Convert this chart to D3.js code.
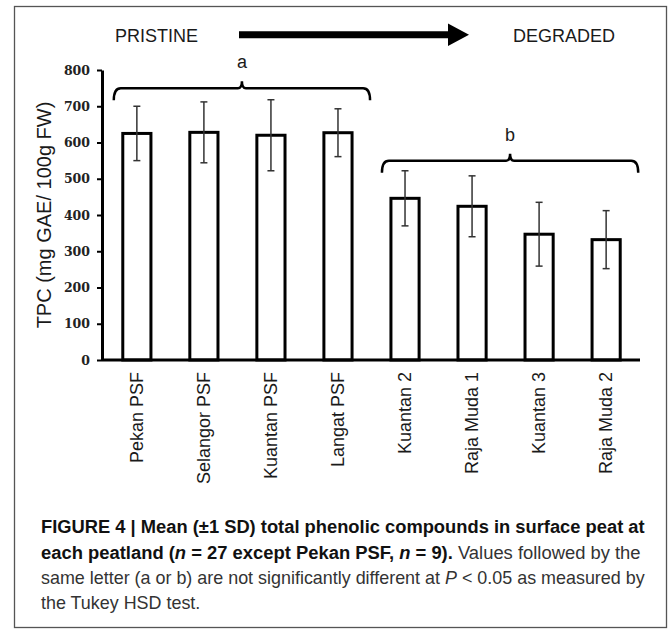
<!DOCTYPE html>
<html>
<head>
<meta charset="utf-8">
<script src="https://cdn.jsdelivr.net/npm/d3@7"></script>
<style>
  html, body { margin: 0; padding: 0; background: #fff; }
  svg { display: block; }
  .cap text { font-family: "Liberation Sans", Arial, sans-serif; font-size: 18px; }
</style>
</head>
<body>
<div id="chart"></div>
<script>
// Data for bar chart
const sites = ["Pekan PSF", "Selangor PSF", "Kuantan PSF", "Langat PSF", "Kuantan 2", "Raja Muda 1", "Kuantan 3", "Raja Muda 2"];
const means = [625, 628, 620, 627, 446, 424, 347, 332];
const sds = [75, 84, 98, 66, 76, 84, 88, 80];
const yTicks = [0, 100, 200, 300, 400, 500, 600, 700, 800];

// Tukey groups
const groupLetters = ["a", "b"];
const groupFirst = ["Pekan PSF", "Kuantan 2"];
const groupLast = ["Langat PSF", "Raja Muda 2"];
const groupLevel = [750, 550];

const width = 670;
const height = 635;
const margin = ({top: 70, right: 30, bottom: 275, left: 102});

const svg = d3.select("#chart")
    .append("svg")
    .attr("width", width)
    .attr("height", height);

svg.append("rect")
    .attr("x", 14.5)
    .attr("y", 6.5)
    .attr("width", 652)
    .attr("height", 621)
    .attr("fill", "#fff")
    .attr("stroke", "#555")
    .attr("stroke-width", 1.3);

const xScale = d3.scaleBand()
    .domain(sites)
    .range([margin.left, 641])
    .paddingInner(0.58)
    .paddingOuter(0.31);

const yScale = d3.scaleLinear()
    .domain([0, 800])
    .range([360, margin.top]);

// header: PRISTINE -> DEGRADED
svg.append("text")
    .attr("x", 115)
    .attr("y", 42)
    .attr("font-family", "Liberation Sans, Arial, sans-serif")
    .attr("font-size", 18)
    .attr("fill", "#1a1a1a")
    .text("PRISTINE");

svg.append("text")
    .attr("x", 513)
    .attr("y", 42)
    .attr("font-family", "Liberation Sans, Arial, sans-serif")
    .attr("font-size", 18)
    .attr("fill", "#1a1a1a")
    .text("DEGRADED");

svg.append("path")
    .attr("d", "M239,31.2 H448 V23.5 L469,34.7 L448,45.9 V38.2 H239 Z")
    .attr("fill", "#000");

// y axis
const yAxis = svg.append("g")
    .attr("transform", `translate(${margin.left},0)`)
    .attr("font-family", "'DejaVu Serif', serif")
    .call(d3.axisLeft(yScale).tickValues(yTicks).tickSize(5).tickSizeOuter(0).tickPadding(7));

yAxis.select(".domain")
    .attr("stroke", "#000")
    .attr("stroke-width", 3);
yAxis.selectAll(".tick line")
    .attr("stroke", "#000")
    .attr("stroke-width", 2);
yAxis.selectAll(".tick text")
    .attr("font-family", "'DejaVu Serif', serif")
    .attr("font-weight", "bold")
    .attr("font-size", 12.5)
    .attr("fill", "#222");

svg.append("text")
    .attr("transform", `translate(51,${(yScale(0) + yScale(800)) / 2}) rotate(-90)`)
    .attr("text-anchor", "middle")
    .attr("font-family", "Liberation Sans, Arial, sans-serif")
    .attr("font-size", 20)
    .attr("fill", "#1a1a1a")
    .text("TPC (mg GAE/ 100g FW)");

// bars
svg.append("g")
    .selectAll("rect")
    .data(sites)
    .join("rect")
    .attr("x", d => xScale(d))
    .attr("y", (d, i) => yScale(means[i]))
    .attr("width", xScale.bandwidth())
    .attr("height", (d, i) => yScale(0) - yScale(means[i]))
    .attr("fill", "#fff")
    .attr("stroke", "#000")
    .attr("stroke-width", 3);

// error bars
const errGroup = svg.append("g")
    .attr("stroke", "#333")
    .attr("stroke-width", 1.5);

sites.forEach((s, i) => {
    const cx = xScale(s) + xScale.bandwidth() / 2;
    const y0 = yScale(means[i] - sds[i]);
    const y1 = yScale(means[i] + sds[i]);
    errGroup.append("line").attr("x1", cx).attr("x2", cx).attr("y1", y0).attr("y2", y1);
    errGroup.append("line").attr("x1", cx - 3.5).attr("x2", cx + 3.5).attr("y1", y0).attr("y2", y0);
    errGroup.append("line").attr("x1", cx - 3.5).attr("x2", cx + 3.5).attr("y1", y1).attr("y2", y1);
});

// x axis
const xAxis = svg.append("g")
    .attr("transform", `translate(0,${yScale(0)})`)
    .call(d3.axisBottom(xScale).tickSize(0).tickSizeOuter(0).tickPadding(0));

xAxis.select(".domain")
    .attr("d", `M${margin.left},0H640`)
    .attr("stroke", "#000")
    .attr("stroke-width", 3);
xAxis.selectAll(".tick text")
    .attr("transform", "rotate(-90)")
    .attr("text-anchor", "end")
    .attr("x", -12)
    .attr("y", 0)
    .attr("dy", "0.35em")
    .attr("font-family", "Liberation Sans, Arial, sans-serif")
    .attr("font-size", 18)
    .attr("fill", "#1a1a1a");

// significance brackets
const bracketGroup = svg.append("g");
groupLetters.forEach((g, i) => {
    const left = xScale(groupFirst[i]) - 9;
    const right = xScale(groupLast[i]) + xScale.bandwidth() + 18;
    const mid = (left + right) / 2;
    const y = yScale(groupLevel[i]);
    const path = `M${left},${y + 12} Q${left},${y} ${left + 7},${y} H${mid - 4} Q${mid},${y} ${mid},${y - 7} Q${mid},${y} ${mid + 4},${y} H${right - 7} Q${right},${y} ${right},${y + 12}`;
    bracketGroup.append("path")
        .attr("d", path)
        .attr("fill", "none")
        .attr("stroke", "#000")
        .attr("stroke-width", 2.5);
    bracketGroup.append("text")
        .attr("x", mid)
        .attr("y", y - 20)
        .attr("text-anchor", "middle")
        .attr("font-family", "Liberation Sans, Arial, sans-serif")
        .attr("font-size", 18)
        .attr("fill", "#1a1a1a")
        .text(g);
});

// caption (condensed look: squeeze each line horizontally)
const cap = svg.append("g").attr("class", "cap");

const line1 = cap.append("text")
    .attr("font-weight", "bold").attr("fill", "#111")
    .text("FIGURE 4 | Mean (\u00b11 SD) total phenolic compounds in surface peat at");

const line2 = cap.append("text");
line2.append("tspan").attr("font-weight", "bold").attr("fill", "#111").text("each peatland (");
line2.append("tspan").attr("font-weight", "bold").attr("font-style", "italic").attr("fill", "#111").text("n");
line2.append("tspan").attr("font-weight", "bold").attr("fill", "#111").text(" = 27 except Pekan PSF, ");
line2.append("tspan").attr("font-weight", "bold").attr("font-style", "italic").attr("fill", "#111").text("n");
line2.append("tspan").attr("font-weight", "bold").attr("fill", "#111").text(" = 9).");
line2.append("tspan").attr("fill", "#333").text(" Values followed by the");

const line3 = cap.append("text").attr("fill", "#333");
line3.append("tspan").text("same letter (a or b) are not significantly different at ");
line3.append("tspan").attr("font-style", "italic").text("P");
line3.append("tspan").text(" < 0.05 as measured by");

const line4 = cap.append("text").attr("fill", "#333")
    .text("the Tukey HSD test.");

const capX = 41;
const sx1 = 604 / line1.node().getComputedTextLength();
const sx2 = 600 / line2.node().getComputedTextLength();
const sx3 = 604 / line3.node().getComputedTextLength();
line1.attr("transform", `translate(${capX},533) scale(${sx1},1)`);
line2.attr("transform", `translate(${capX},559) scale(${sx2},1)`);
line3.attr("transform", `translate(${capX},584) scale(${sx3},1)`);
line4.attr("transform", `translate(${capX},609) scale(${sx3},1)`);
</script>
</body>
</html>
